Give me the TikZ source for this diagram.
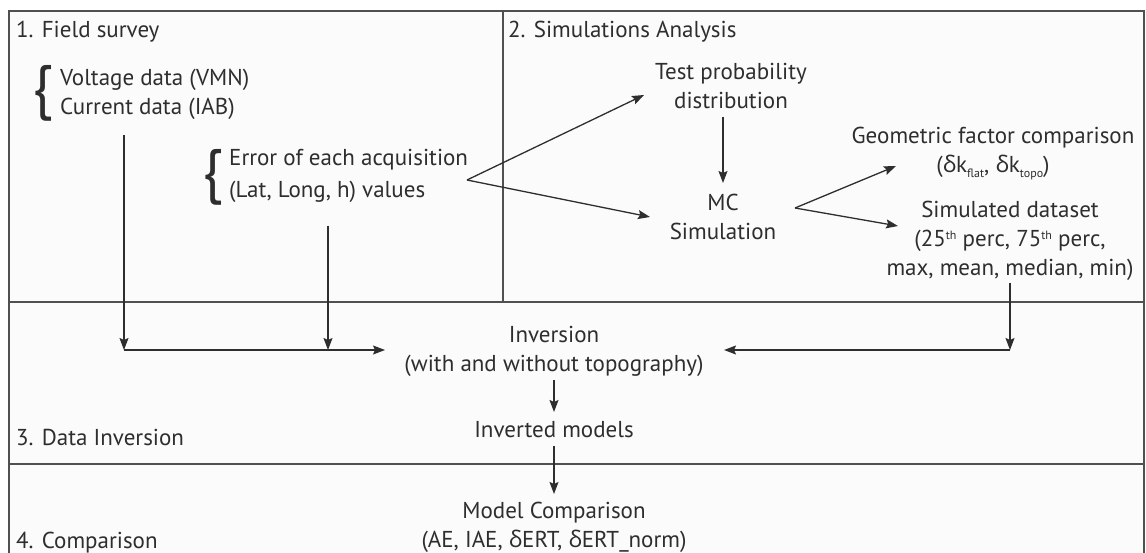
\documentclass[tikz,border=0pt]{standalone}
\usepackage{fontspec}
\setmainfont{PT Sans}
\newfontfamily\grkfont{Open Sans}
\usetikzlibrary{arrows.meta}
\definecolor{ink}{HTML}{2E2E2E}
\definecolor{framec}{HTML}{505050}
\definecolor{paper}{HTML}{FBFBFB}
\newcommand{\dlt}{{\grkfont δ}}
\newcommand{\lowidx}[1]{\raisebox{-5pt}{\fontsize{12}{12}\selectfont #1}}
\newcommand{\highidx}[1]{\raisebox{7.5pt}{\fontsize{12}{12}\selectfont #1}}
\begin{document}
\begin{tikzpicture}[x=1pt,y=-1pt,
  txt/.style={font=\fontsize{23}{29}\selectfont, text=ink, inner sep=0pt, align=center},
  ttl/.style={txt, anchor=west, align=left},
  bracenode/.style={font=\fontsize{60}{60}\selectfont, text=ink, inner sep=0pt},
  frameline/.style={draw=framec, line width=2pt},
  conn/.style={draw=ink, line width=1.3pt},
  arr/.style={conn, -{Stealth[length=12pt,width=9pt,inset=2pt]}}]
\useasboundingbox (0,0) rectangle (1146,553);
\fill[white] (0,0) rectangle (1146,553);
\fill[paper] (9,11) rectangle (1144,560);
\draw[frameline] (9,560) -- (9,11) -- (1144,11) -- (1144,560);
\draw[frameline] (9,302) -- (1144,302);
\draw[frameline] (9,464) -- (1144,464);
\draw[frameline] (503,11) -- (503,302);

% section titles
\node[ttl] (fs)  at (16,32)  {1. Field survey};
\node[ttl] (sa)  at (508,32) {2. Simulations Analysis};
\node[ttl] (di)  at (16,437) {3. Data Inversion};
\node[ttl] (cp)  at (16,543) {4. Comparison};

% field survey
\node[bracenode] (b1) at (43,93) {\{};
\node[ttl] (vc) at (60,94) {Voltage data (VMN)\\Current data (IAB)};
\node[bracenode] (b2) at (213,177) {\{};
\node[ttl, font=\fontsize{23}{32}\selectfont] (err) at (229,176) {Error of each acquisition\\(Lat, Long, h) values};

% simulations
\node[txt] (tpd) at (731,86)  {Test probability\\distribution};
\node[txt] (mc)  at (723,217) {MC\\Simulation};
\node[txt] (gfc) at (993,154) {Geometric factor comparison\\(\dlt k\lowidx{flat}, \dlt k\lowidx{topo})};
\node[txt] (sd)  at (1010,241) {Simulated dataset\\(25\highidx{th} perc, 75\highidx{th} perc,\\max, mean, median, min)};

% inversion / comparison
\node[txt] (inv)  at (554,351) {Inversion\\(with and without topography)};
\node[txt] (im)   at (554,430) {Inverted models};
\node[txt] (mcmp) at (554,527) {Model Comparison\\(AE, IAE, \dlt ERT, \dlt ERT\_norm)};

% junction coordinates
\coordinate (vcdown) at (124,135);
\coordinate (ljoin)  at (124,350);
\coordinate (errdown) at (328,226);
\coordinate (mjoin)  at (328,350);
\coordinate (linvtip) at (385,350);
\coordinate (v1) at (467,180);
\coordinate (v1a) at (644,95);
\coordinate (v1b) at (650,217);
\coordinate (v2) at (795,208);
\coordinate (v2a) at (896,166);
\coordinate (v2b) at (898,226);
\coordinate (sddown) at (1010,283);
\coordinate (rjoin) at (1010,350);
\coordinate (rinvtip) at (724,350);
\coordinate (tpdout) at (723,117);
\coordinate (mcin) at (723,183);
\coordinate (invout) at (554,380);
\coordinate (imin) at (554,412);
\coordinate (imout) at (554,446);
\coordinate (mcmpin) at (554,494);

% connectors
\draw[arr] (vcdown) -- (ljoin);
\draw[arr] (errdown) -- (mjoin);
\draw[arr] (ljoin) -- (linvtip);
\draw[arr] (sddown) -- (rjoin);
\draw[arr] (rjoin) -- (rinvtip);
\draw[arr] (v1) -- (v1a);
\draw[arr] (v1) -- (v1b);
\draw[arr] (tpdout) -- (mcin);
\draw[arr] (v2) -- (v2a);
\draw[arr] (v2) -- (v2b);
\draw[arr] (invout) -- (imin);
\draw[arr] (imout) -- (mcmpin);
\end{tikzpicture}
\end{document}
